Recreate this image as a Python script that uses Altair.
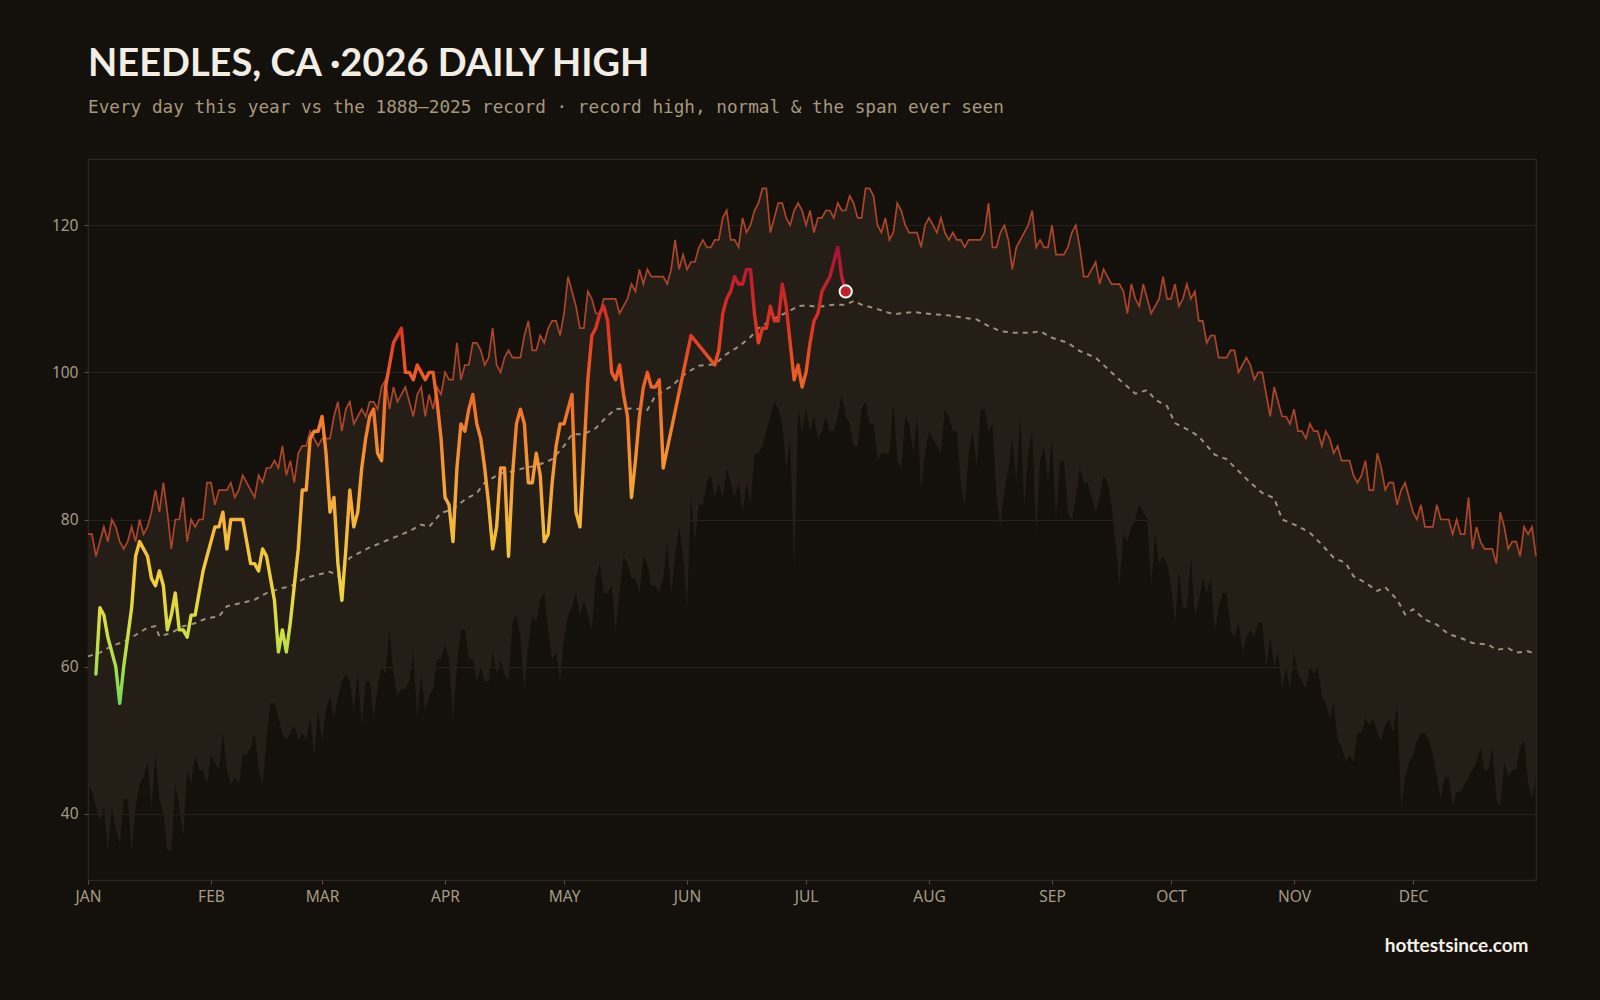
import altair as alt
import pandas as pd

# ---------------- data ----------------
MONTH_DAYS = [0, 31, 59, 90, 120, 151, 181, 212, 243, 273, 304, 334]
MONTH_LABELS = ["JAN", "FEB", "MAR", "APR", "MAY", "JUN", "JUL", "AUG", "SEP", "OCT", "NOV", "DEC"]
Y_TICKS = [40, 60, 80, 100, 120]

record_high = [
    78, 78, 75, 77, 79, 77, 80, 79, 77, 76,
    77, 79, 77, 80, 78, 79, 81, 84, 81, 85,
    81, 76, 80, 80, 83, 77, 80, 79, 80, 80,
    85, 85, 82, 84, 84, 84, 85, 83, 84, 86,
    85, 84, 83, 86, 85, 87, 87, 88, 87, 90,
    86, 88, 85, 89, 90, 90, 92, 91, 90, 91,
    91, 91, 94, 96, 92, 95, 96, 93, 94, 95,
    94, 96, 96, 95, 98, 99, 95, 98, 96, 97,
    98, 96, 94, 97, 98, 94, 97, 95, 98, 97,
    100, 99, 99, 104, 99, 101, 101, 104, 104, 103,
    101, 102, 106, 101, 100, 102, 103, 102, 102, 102,
    105, 107, 103, 103, 105, 104, 106, 107, 107, 105,
    108, 113, 111, 109, 106, 106, 111, 110, 108, 108,
    110, 110, 110, 110, 108, 109, 110, 112, 111, 114,
    112, 114, 113, 113, 113, 113, 112, 114, 118, 114,
    116, 114, 115, 115, 117, 118, 117, 117, 118, 118,
    121, 122, 118, 118, 117, 121, 119, 120, 122, 123,
    125, 125, 119, 121, 123, 123, 121, 120, 122, 123,
    122, 120, 122, 119, 121, 121, 122, 122, 121, 123,
    122, 122, 124, 123, 121, 121, 125, 125, 124, 120,
    119, 121, 118, 119, 123, 122, 120, 119, 119, 119,
    117, 120, 121, 120, 119, 121, 119, 118, 119, 118,
    118, 117, 118, 118, 118, 118, 119, 123, 117, 117,
    119, 120, 118, 114, 117, 118, 119, 120, 122, 117,
    118, 117, 117, 120, 116, 116, 116, 117, 119, 120,
    117, 113, 113, 114, 115, 112, 114, 113, 112, 112,
    112, 111, 108, 112, 110, 109, 112, 110, 108, 109,
    110, 113, 110, 110, 112, 109, 110, 112, 110, 111,
    107, 107, 104, 105, 105, 102, 102, 102, 103, 103,
    100, 101, 102, 101, 99, 100, 100, 97, 94, 98,
    96, 94, 94, 93, 95, 92, 92, 91, 93, 92,
    92, 90, 92, 91, 89, 90, 88, 88, 88, 86,
    85, 86, 88, 84, 84, 89, 87, 84, 85, 85,
    82, 84, 85, 83, 81, 80, 82, 79, 79, 79,
    82, 80, 80, 80, 78, 80, 78, 78, 83, 76,
    79, 77, 76, 76, 76, 74, 81, 79, 76, 77,
    77, 75, 79, 78, 79, 75,
]

record_low = [
    44, 43, 41, 39, 41, 35, 41, 38, 36, 42,
    42, 35, 41, 44, 45, 47, 41, 48, 42, 40,
    35, 35, 44, 41, 37, 46, 44, 48, 46, 46,
    44, 48, 47, 46, 51, 46, 44, 45, 44, 48,
    48, 49, 51, 46, 44, 50, 55, 55, 53, 51,
    50, 51, 52, 50, 51, 50, 53, 48, 54, 50,
    54, 56, 53, 56, 58, 59, 58, 54, 59, 52,
    58, 58, 53, 57, 60, 59, 65, 59, 56, 57,
    57, 58, 62, 53, 59, 54, 56, 57, 61, 61,
    63, 61, 53, 60, 65, 65, 61, 61, 58, 60,
    58, 58, 62, 59, 61, 59, 58, 66, 67, 64,
    57, 63, 67, 66, 69, 70, 65, 61, 62, 58,
    64, 67, 68, 70, 67, 69, 67, 65, 72, 74,
    70, 70, 71, 65, 70, 75, 74, 72, 72, 70,
    75, 74, 71, 71, 70, 72, 77, 70, 75, 79,
    75, 68, 83, 77, 82, 82, 85, 86, 83, 85,
    83, 87, 85, 83, 85, 81, 85, 82, 89, 89,
    90, 92, 94, 96, 95, 93, 87, 91, 73, 95,
    92, 95, 92, 94, 91, 92, 94, 92, 92, 94,
    97, 94, 93, 90, 90, 95, 96, 93, 93, 88,
    89, 89, 89, 96, 88, 87, 94, 93, 89, 94,
    84, 89, 92, 91, 90, 89, 95, 94, 92, 92,
    85, 82, 89, 92, 87, 95, 95, 92, 93, 83,
    79, 84, 87, 91, 85, 94, 82, 89, 92, 78,
    88, 90, 85, 91, 80, 88, 88, 81, 80, 83,
    87, 85, 85, 83, 81, 83, 86, 85, 82, 77,
    71, 78, 77, 79, 80, 82, 81, 80, 71, 78,
    74, 75, 74, 71, 66, 73, 68, 68, 75, 67,
    69, 72, 70, 72, 65, 68, 70, 70, 65, 64,
    66, 62, 64, 65, 64, 66, 66, 60, 64, 60,
    62, 57, 60, 57, 62, 59, 58, 57, 60, 59,
    60, 56, 55, 53, 55, 50, 49, 47, 48, 47,
    51, 51, 53, 52, 53, 51, 50, 52, 53, 51,
    55, 41, 45, 47, 48, 50, 51, 51, 50, 48,
    45, 42, 45, 45, 41, 43, 43, 44, 45, 46,
    47, 49, 46, 46, 49, 42, 41, 47, 45, 46,
    46, 49, 50, 44, 42, 45,
]

normal_days = [
    0, 3, 6, 9, 12, 15, 17, 18, 21, 24, 27, 30, 33, 35, 39, 42, 45, 49, 51, 55,
    58, 61, 63, 66, 71, 76, 81, 84, 86, 89, 92, 95, 98, 100, 104, 106, 110, 112, 115, 117,
    120, 122, 125, 128, 131, 133, 137, 141, 143, 147, 151, 154, 158, 161, 164, 167, 169, 172, 174, 176,
    179, 181, 184, 188, 191, 193, 195, 199, 203, 208, 213, 216, 221, 224, 227, 230, 233, 238, 240, 243,
    247, 250, 254, 257, 260, 264, 267, 269, 272, 274, 278, 280, 284, 287, 290, 293, 296, 299, 301, 305,
    308, 311, 314, 317, 319, 322, 325, 327, 330, 332, 334, 337, 340, 343, 346, 349, 353, 355, 358, 360,
    363, 364,
]
normal_vals = [
    61.4, 61.9, 62.8, 63.4, 64.3, 65.3, 65.5, 64.1, 64.6, 65.5, 65.9, 66.6, 66.8, 68.2, 68.7, 69.1, 70.0, 70.7, 70.9, 72.1,
    72.5, 72.9, 72.3, 74.8, 76.2, 77.3, 78.4, 79.3, 79.0, 80.9, 81.4, 82.7, 83.6, 85.0, 86.3, 86.4, 87.0, 87.2, 87.7, 88.2,
    90.0, 91.6, 91.6, 92.4, 94.1, 95.0, 95.1, 94.9, 96.8, 98.1, 100.0, 100.9, 101.1, 102.5, 103.5, 104.8, 106.0, 107.0, 107.6, 108.1,
    109.0, 109.1, 108.9, 109.2, 109.2, 109.7, 109.2, 108.6, 107.9, 108.2, 107.9, 107.8, 107.4, 107.2, 106.3, 105.6, 105.4, 105.4, 105.6, 104.7,
    104.0, 102.9, 102.0, 100.5, 99.0, 97.1, 97.6, 96.3, 95.4, 93.1, 92.0, 91.3, 88.8, 88.2, 86.6, 85.0, 83.6, 82.9, 80.0, 79.1,
    78.2, 76.6, 74.8, 74.1, 72.3, 71.4, 70.3, 70.8, 69.1, 67.1, 67.8, 66.4, 65.7, 64.4, 63.9, 63.2, 63.0, 62.3, 62.5, 61.9,
    62.1, 61.9,
]

obs_days = list(range(2, 146)) + [152] + list(range(158, 192))
obs_vals = [
    59, 68, 67, 64, 62, 60, 55, 60, 64, 68,
    75, 77, 76, 75, 72, 71, 73, 71, 65, 67,
    70, 65, 65, 64, 67, 67, 70, 73, 75, 77,
    79, 79, 81, 76, 80, 80, 80, 80, 77, 74,
    74, 73, 76, 75, 72, 69, 62, 65, 62, 66,
    71, 76, 84, 84, 91, 92, 92, 94, 89, 81,
    83, 74, 69, 76, 84, 79, 81, 87, 91, 94,
    95, 89, 88, 98, 101, 104, 105, 106, 100, 100,
    99, 101, 100, 99, 100, 100, 96, 91, 83, 82,
    77, 87, 93, 92, 95, 97, 93, 91, 87, 82,
    76, 79, 87, 87, 75, 86, 93, 95, 93, 85,
    85, 89, 86, 77, 78, 85, 90, 93, 93, 95,
    97, 81, 79, 89, 99, 105, 106, 108, 109, 107,
    100, 99, 101, 97, 94, 83, 88, 94, 98, 100,
    98, 98, 99, 87,
    105,
    101, 103, 108, 110, 111, 113, 112, 112, 114, 114,
    108, 104, 106, 106, 109, 107, 107, 112, 109, 104,
    99, 101, 98, 100, 104, 107, 108, 111, 112, 113,
    115, 117, 113, 111,
]

# colour ramp of the 2026 line: temperature -> colour
RAMP_TEMPS = [55, 60, 65, 70, 78, 85, 92, 100, 106, 112, 117]
RAMP_COLORS = ["#78d957", "#a6de4b", "#d2df42", "#eed43d", "#f5bd3c", "#f6a034",
               "#f3822d", "#ec5a25", "#df3523", "#c81f2b", "#a2133c"]

# ---------------- styling ----------------
BG = "#14110d"
BAND = "#241e16"
REC_COLOR = "#ad4529"
NORMAL_COLOR = "#9c917c"
TEXT_MUTED = "#a69a84"

rec_df = pd.DataFrame({"day": list(range(len(record_high))), "high": record_high, "low": record_low})
norm_df = pd.DataFrame({"day": normal_days, "normal": normal_vals})
obs_df = pd.DataFrame({"day": obs_days, "temp": obs_vals})
last_df = obs_df.tail(1)

label_expr = "{}[indexof({}, datum.value)]".format(
    "[" + ",".join("'%s'" % m for m in MONTH_LABELS) + "]",
    "[" + ",".join(str(d) for d in MONTH_DAYS) + "]",
)

x_scale = alt.Scale(domain=[0, 365], nice=False, zero=False)
y_scale = alt.Scale(domain=[31, 129], nice=False, zero=False)

x_axis = alt.Axis(
    values=MONTH_DAYS, labelExpr=label_expr, grid=False, title="hottestsince.com",
    titleX=1440, titleY=71, titleAlign="right", titleBaseline="alphabetic",
    titleFont="Lato", titleFontSize=19, titleFontWeight="bold", titleColor="#f4efe6",
    labelPadding=5, labelFlush=False,
)
y_axis = alt.Axis(values=Y_TICKS, title=None, labelPadding=6)


def X():
    return alt.X("day:Q", scale=x_scale, axis=x_axis)


band = alt.Chart(rec_df).mark_area(color=BAND, opacity=1).encode(
    x=X(), y=alt.Y("low:Q", scale=y_scale, axis=y_axis), y2="high:Q"
)
rec_line = alt.Chart(rec_df).mark_line(color=REC_COLOR, strokeWidth=1.7).encode(
    x=X(), y=alt.Y("high:Q", scale=y_scale, axis=y_axis)
)
normal_line = alt.Chart(norm_df).mark_line(
    color=NORMAL_COLOR, strokeWidth=2, strokeDash=[5, 5]
).encode(x=X(), y=alt.Y("normal:Q", scale=y_scale, axis=y_axis))

tmin, tmax = min(obs_vals), max(obs_vals)
stops = [
    alt.GradientStop(color=c, offset=max(0.0, min(1.0, (t - tmin) / (tmax - tmin))))
    for t, c in zip(RAMP_TEMPS, RAMP_COLORS)
]
gradient = alt.Gradient(gradient="linear", stops=stops, x1=0, x2=0, y1=1, y2=0)

obs_line = alt.Chart(obs_df).mark_line(
    stroke=gradient, strokeWidth=3.4, strokeJoin="round", strokeCap="round"
).encode(x=X(), y=alt.Y("temp:Q", scale=y_scale, axis=y_axis))

last_pt = alt.Chart(last_df).mark_point(
    filled=True, fill="#c21f2d", stroke="#ffffff", strokeWidth=2, size=150, opacity=1
).encode(x=X(), y=alt.Y("temp:Q", scale=y_scale, axis=y_axis))

chart = (
    alt.layer(band, rec_line, normal_line, obs_line, last_pt)
    .properties(
        width=1448,
        height=721,
        autosize=alt.AutoSizeParams(type="none"),
        padding={"left": 88, "top": 159, "right": 64, "bottom": 120},
        background=BG,
        title=alt.TitleParams(
            text="NEEDLES, CA \u00b72026 DAILY HIGH",
            subtitle="Every day this year vs the 1888\u20132025 record \u00b7 record high, normal & the span ever seen",
            anchor="start",
            frame="group",
            font="Lato",
            fontSize=38,
            fontWeight="bold",
            color="#f3eee4",
            subtitleFont="DejaVu Sans Mono",
            subtitleFontSize=17.7,
            subtitleColor="#a8987c",
            subtitlePadding=15,
            offset=42,
        ),
    )
    .configure_view(stroke="#2e271f", strokeWidth=1.2)
    .configure_axis(
        gridColor="#29221a",
        gridWidth=1,
        domain=False,
        tickColor="#5a4e3e",
        tickSize=4,
        labelColor=TEXT_MUTED,
        labelFont="Noto Sans",
        labelFontSize=15.5,
    )
)

chart.save("out.html", embed_options={"renderer": "svg", "actions": False})
